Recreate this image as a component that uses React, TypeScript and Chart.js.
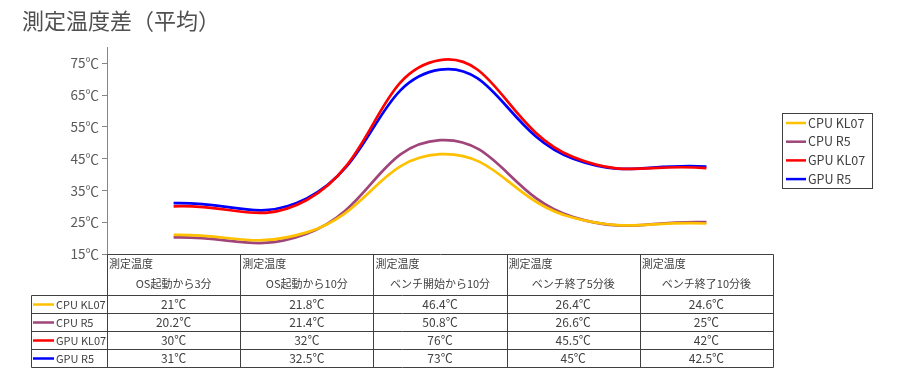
import React, { useEffect, useRef } from "react";
import { Chart, registerables } from "chart.js";

Chart.register(...registerables);

const titleText = "測定温度差（平均）";
const headerPrefix = "測定温度";
const categories = ["OS起動から3分", "OS起動から10分", "ベンチ開始から10分", "ベンチ終了5分後", "ベンチ終了10分後"];
const seriesNames = ["CPU KL07", "CPU R5", "GPU KL07", "GPU R5"];
const cpuKL07 = [21, 21.8, 46.4, 26.4, 24.6];
const cpuR5 = [20.2, 21.4, 50.8, 26.6, 25];
const gpuKL07 = [30, 32, 76, 45.5, 42];
const gpuR5 = [31, 32.5, 73, 45, 42.5];
const seriesColors = ["#FFC000", "#A0457A", "#FF0000", "#0000FF"];
const yTicks = [15, 25, 35, 45, 55, 65, 75];
const yMin = 15;
const yMax = 80;

const FONT = "'Noto Sans CJK JP', 'Noto Sans', sans-serif";
const TEXT = "#404040";
const LINE = "#404040";

const seriesValues = [cpuKL07, cpuR5, gpuKL07, gpuR5];

const fmt = (v: number) => `${v}℃`;

const tablePlugin = {
  id: "dataTableAndLegend",
  afterDraw(chart: any) {
    const { ctx, chartArea } = chart;
    const xs = chart.scales.x;
    const n = categories.length;
    const half = (chartArea.right - chartArea.left) / (2 * n);
    const bounds: number[] = [];
    for (let i = 0; i < n; i++) bounds.push(xs.getPixelForValue(i) - half);
    bounds.push(xs.getPixelForValue(n - 1) + half);
    const top = chartArea.bottom;
    const headerBottom = top + 41;
    const rowH = 18;
    const labelLeft = 31;
    const tableBottom = headerBottom + rowH * seriesNames.length;

    ctx.save();
    ctx.strokeStyle = LINE;
    ctx.lineWidth = 1;
    const hline = (x1: number, x2: number, y: number) => {
      ctx.beginPath();
      ctx.moveTo(Math.round(x1) + 0.5, Math.round(y) + 0.5);
      ctx.lineTo(Math.round(x2) + 0.5, Math.round(y) + 0.5);
      ctx.stroke();
    };
    const vline = (x: number, y1: number, y2: number) => {
      ctx.beginPath();
      ctx.moveTo(Math.round(x) + 0.5, Math.round(y1) + 0.5);
      ctx.lineTo(Math.round(x) + 0.5, Math.round(y2) + 0.5);
      ctx.stroke();
    };
    hline(bounds[0], bounds[n], top);
    for (let r = 0; r <= seriesNames.length; r++) {
      hline(labelLeft, bounds[n], headerBottom + r * rowH);
    }
    for (let i = 0; i <= n; i++) vline(bounds[i], top, tableBottom);
    vline(labelLeft, headerBottom, tableBottom);

    // header
    ctx.fillStyle = TEXT;
    ctx.textBaseline = "middle";
    ctx.font = `11px ${FONT}`;
    for (let i = 0; i < n; i++) {
      ctx.textAlign = "left";
      ctx.fillText(headerPrefix, bounds[i] + 2, top + 10);
      ctx.textAlign = "center";
      ctx.fillText(categories[i], (bounds[i] + bounds[i + 1]) / 2, top + 30);
    }
    // rows
    seriesNames.forEach((name, r) => {
      const yc = headerBottom + r * rowH + rowH / 2 + 0.5;
      ctx.strokeStyle = seriesColors[r];
      ctx.lineWidth = 2.5;
      ctx.beginPath();
      ctx.moveTo(labelLeft + 2, yc);
      ctx.lineTo(labelLeft + 23, yc);
      ctx.stroke();
      ctx.fillStyle = TEXT;
      ctx.textAlign = "left";
      ctx.font = `11px ${FONT}`;
      ctx.fillText(name, labelLeft + 25, yc);
      ctx.textAlign = "center";
      ctx.font = `12px ${FONT}`;
      seriesValues[r].forEach((v, i) => {
        ctx.fillText(fmt(v), (bounds[i] + bounds[i + 1]) / 2, yc);
      });
    });

    // right legend
    const lx = 782, ly = 113, lw = 90, lh = 75;
    ctx.strokeStyle = LINE;
    ctx.lineWidth = 1;
    ctx.strokeRect(lx + 0.5, ly + 0.5, lw, lh);
    ctx.font = `12.5px ${FONT}`;
    seriesNames.forEach((name, r) => {
      const yc = ly + 10 + r * 18.7;
      ctx.strokeStyle = seriesColors[r];
      ctx.lineWidth = 2.5;
      ctx.beginPath();
      ctx.moveTo(lx + 4, yc);
      ctx.lineTo(lx + 24, yc);
      ctx.stroke();
      ctx.fillStyle = TEXT;
      ctx.textAlign = "left";
      ctx.fillText(name, lx + 26, yc);
    });
    ctx.restore();
  },
};

export default function App() {
  const ref = useRef<HTMLCanvasElement | null>(null);
  useEffect(() => {
    document.body.style.margin = "0";
    const canvas = ref.current;
    if (!canvas) return;
    const chart = new Chart(canvas, {
      type: "line",
      data: {
        labels: categories,
        datasets: seriesNames.map((name, i) => ({
          label: name,
          data: seriesValues[i],
          borderColor: seriesColors[i],
          backgroundColor: seriesColors[i],
          borderWidth: 2.7,
          pointRadius: 0,
          pointHoverRadius: 0,
          tension: 0.45,
          fill: false,
        })),
      },
      options: {
        responsive: false,
        animation: false,
        devicePixelRatio: 1,
        layout: { padding: { left: 22, right: 127, top: 0, bottom: 121 } },
        plugins: {
          legend: { display: false },
          tooltip: { enabled: false },
          title: {
            display: true,
            text: titleText,
            align: "start",
            color: "#505050",
            font: { size: 22, family: FONT, weight: "normal", lineHeight: 1.2 },
            padding: { top: 7, bottom: 14 },
          },
        },
        scales: {
          x: {
            type: "category",
            display: false,
            offset: true,
          },
          y: {
            min: yMin,
            max: yMax,
            afterBuildTicks: (axis: any) => {
              axis.ticks = yTicks.map((v) => ({ value: v }));
            },
            afterFit: (axis: any) => {
              axis.width = 85;
            },
            ticks: {
              color: "#595959",
              font: { size: 13.5, family: FONT },
              padding: 3,
              callback: (v: any) => `${v}℃`,
            },
            grid: {
              display: true,
              drawOnChartArea: false,
              drawTicks: true,
              tickLength: 5,
              color: "#868686",
            },
            border: { display: true, color: "#868686", width: 1 },
          },
        },
      },
      plugins: [tablePlugin],
    });
    return () => chart.destroy();
  }, []);
  return (
    <div style={{ width: 900, height: 375 }}>
      <canvas ref={ref} width={900} height={375} style={{ display: "block" }} />
    </div>
  );
}
